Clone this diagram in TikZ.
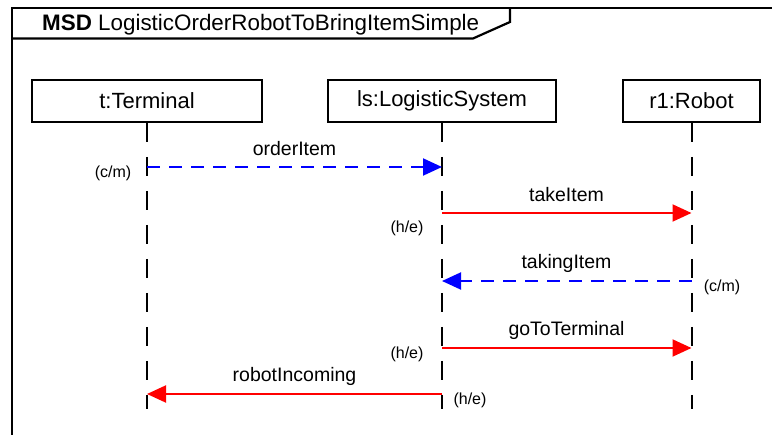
\documentclass[tikz,border=0pt]{standalone}
\usepackage{fontspec}
\setmainfont{Liberation Sans}
\usetikzlibrary{arrows.meta}
\definecolor{msgblue}{RGB}{0,0,255}
\definecolor{msgred}{RGB}{255,0,0}
\begin{document}
\begin{tikzpicture}[x=1pt,y=-1pt,
  headbox/.style={draw=black,line width=1.8pt,minimum width=#1,minimum height=42pt,
    inner sep=0pt,font=\fontsize{22}{24}\selectfont},
  lifeline/.style={draw=black,line width=2pt,dash pattern=on 19pt off 15pt},
  hotmsg/.style={draw=msgred,line width=2pt,-{Triangle[length=19pt,width=17pt]}},
  coldmsg/.style={draw=msgblue,line width=2pt,dash pattern=on 13pt off 9pt,
    -{Triangle[length=19pt,width=17pt]}},
  msglabel/.style={font=\fontsize{19.5}{22}\selectfont,inner sep=0pt},
  modelabel/.style={font=\fontsize{16}{18}\selectfont,inner sep=0pt}
]
\useasboundingbox (0,0) rectangle (772,435);

% diagram frame and its name tab
\draw[line width=2.6pt] (12,445) -- (12,8) -- (780,8);
\draw[line width=2.2pt] (12,38.5) -- (473,38.5) -- (510,22) -- (510,8);
\node[anchor=base west,inner sep=0pt,font=\fontsize{22.4}{24}\selectfont] (title)
  at (42,31) {\textbf{MSD} LogisticOrderRobotToBringItemSimple};

% lifeline heads
\node[headbox=230pt] (t)  at (147,101) {t:Terminal};
\node[headbox=228pt] (ls) at (442,101) {ls:LogisticSystem};
\node[headbox=137pt] (r1) at (691.5,101) {r1:Robot};

% lifeline ends
\coordinate (tEnd)  at (147,409);
\coordinate (lsEnd) at (442,409);
\coordinate (r1End) at (691.5,409);
\draw[lifeline] (t.south)  -- (tEnd);
\draw[lifeline] (ls.south) -- (lsEnd);
\draw[lifeline] (r1.south) -- (r1End);

% message end points on the lifelines
\coordinate (m1a) at (t |- 0,167);   \coordinate (m1b) at (ls |- 0,167);
\coordinate (m2a) at (ls |- 0,213);  \coordinate (m2b) at (r1 |- 0,213);
\coordinate (m3a) at (r1 |- 0,281);  \coordinate (m3b) at (ls |- 0,281);
\coordinate (m4a) at (ls |- 0,348);  \coordinate (m4b) at (r1 |- 0,348);
\coordinate (m5a) at (ls |- 0,394);  \coordinate (m5b) at (t |- 0,394);

% messages
\draw[coldmsg] (m1a) -- (m1b);
\draw[hotmsg]  (m2a) -- (m2b);
\draw[coldmsg] (m3a) -- (m3b);
\draw[hotmsg]  (m4a) -- (m4b);
\draw[hotmsg]  (m5a) -- (m5b);

% message names
\node[msglabel] (l1) at (294.5,149) {orderItem};
\node[msglabel] (l2) at (566.5,195) {takeItem};
\node[msglabel] (l3) at (566.5,263) {takingItem};
\node[msglabel] (l4) at (566.5,330) {goToTerminal};
\node[msglabel] (l5) at (294.5,376) {robotIncoming};

% execution / temperature modes
\node[modelabel] (k1) at (113,173) {(c/m)};
\node[modelabel] (k2) at (407,228) {(h/e)};
\node[modelabel] (k3) at (722,287) {(c/m)};
\node[modelabel] (k4) at (407,354) {(h/e)};
\node[modelabel] (k5) at (470,400) {(h/e)};
\end{tikzpicture}
\end{document}
